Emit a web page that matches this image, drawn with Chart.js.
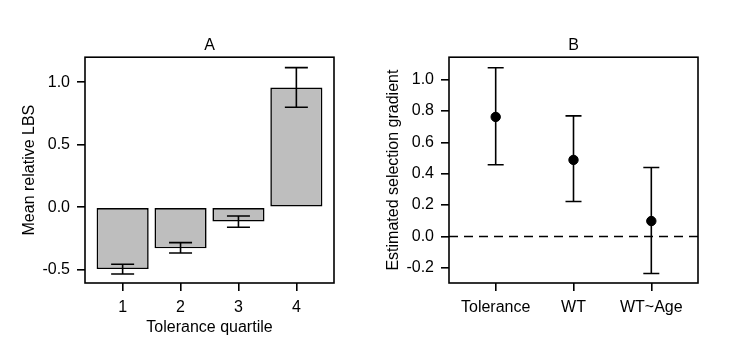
<!DOCTYPE html>
<html>
<head>
<meta charset="utf-8">
<script src="https://cdn.jsdelivr.net/npm/chart.js@4/dist/chart.umd.min.js"></script>
<style>
  body { margin: 0; background: #fff; }
  #wrap { position: relative; width: 729px; height: 354px; }
  canvas { position: absolute; top: 0; }
  #chartA { left: 0; }
  #chartB { left: 364px; }
</style>
</head>
<body>
<div id="wrap">
  <canvas id="chartA" width="364" height="354"></canvas>
  <canvas id="chartB" width="365" height="354"></canvas>
</div>
<script>
// panel A: mean relative LBS by tolerance quartile
const quartiles = [1, 2, 3, 4];
const lbsMean = [-0.494, -0.328, -0.115, 0.957];
const lbsLow = [-0.534, -0.366, -0.160, 0.800];
const lbsHigh = [-0.456, -0.283, -0.070, 1.117];
const yTicksA = [-0.5, 0.0, 0.5, 1.0];

// panel B: estimated selection gradients
const terms = ['Tolerance', 'WT', 'WT~Age'];
const gradMean = [0.762, 0.488, 0.098];
const gradLow = [0.457, 0.223, -0.236];
const gradHigh = [1.076, 0.769, 0.440];
const yTicksB = [-0.2, 0.0, 0.2, 0.4, 0.6, 0.8, 1.0];

Chart.defaults.font.family = "'Liberation Sans', Arial, sans-serif";
Chart.defaults.font.size = 16;
Chart.defaults.color = '#000';

const LW = 1.6;

// draws vertical error bars with caps, using the chart's scales
function errorBarPlugin(xs, lo, hi, capHalf, hook) {
  const p = { id: 'errbars' };
  p[hook] = chart => {
    const { ctx } = chart;
    const xS = chart.scales.x, yS = chart.scales.y;
    ctx.save();
    ctx.strokeStyle = '#000';
    ctx.lineWidth = LW;
    xs.forEach((xv, i) => {
      const x = xS.getPixelForValue(xv);
      const y1 = yS.getPixelForValue(lo[i]);
      const y2 = yS.getPixelForValue(hi[i]);
      ctx.beginPath();
      ctx.moveTo(x, y1); ctx.lineTo(x, y2);
      ctx.moveTo(x - capHalf, y1); ctx.lineTo(x + capHalf, y1);
      ctx.moveTo(x - capHalf, y2); ctx.lineTo(x + capHalf, y2);
      ctx.stroke();
    });
    ctx.restore();
  };
  return p;
}

const boxPlugin = {
  id: 'box',
  afterDraw(chart) {
    const { ctx, chartArea: a } = chart;
    ctx.save();
    ctx.strokeStyle = '#000';
    ctx.lineWidth = LW;
    ctx.strokeRect(a.left, a.top, a.right - a.left, a.bottom - a.top);
    ctx.restore();
  }
};

const zeroLine = {
  id: 'zeroLine',
  beforeDatasetsDraw(chart) {
    const { ctx, chartArea: a } = chart;
    const y = chart.scales.y.getPixelForValue(0);
    ctx.save();
    ctx.strokeStyle = '#000';
    ctx.lineWidth = LW;
    ctx.setLineDash([9, 6]);
    ctx.beginPath();
    ctx.moveTo(a.left, y); ctx.lineTo(a.right, y);
    ctx.stroke();
    ctx.restore();
  }
};

function axisY(min, max, ticks, titleText) {
  return {
    type: 'linear', min: min, max: max,
    afterFit: s => { s.width = 85; },
    afterBuildTicks: s => { s.ticks = ticks.map(v => ({ value: v })); },
    ticks: { padding: 7, callback: v => v.toFixed(1) },
    grid: { drawOnChartArea: false, drawTicks: true, tickLength: 8, color: '#000', lineWidth: LW },
    border: { display: false },
    title: { display: true, text: titleText, padding: { top: 20, bottom: 0 } }
  };
}

function axisX(min, max, ticks, label, titleText) {
  return {
    type: 'linear', min: min, max: max, offset: false,
    afterFit: s => { s.height = 71; },
    afterBuildTicks: s => { s.ticks = ticks.map(v => ({ value: v })); },
    ticks: { padding: 7, maxRotation: 0, autoSkip: false, callback: label },
    grid: { offset: false, drawOnChartArea: false, drawTicks: true, tickLength: 8, color: '#000', lineWidth: LW },
    border: { display: false },
    title: { display: !!titleText, text: titleText || '', padding: { top: 0, bottom: 17 } }
  };
}

function titleOpt(text) {
  return {
    display: true, text: text, fullSize: false, color: '#000',
    font: { size: 16, weight: 'normal' }, padding: { top: 36, bottom: 2 }
  };
}

new Chart(document.getElementById('chartA'), {
  type: 'bar',
  data: {
    datasets: [{
      data: quartiles.map((q, i) => ({ x: q, y: lbsMean[i] })),
      backgroundColor: '#bebebe',
      borderColor: '#000',
      borderWidth: LW,
      borderSkipped: false,
      barPercentage: 0.9,
      categoryPercentage: 1.0
    }]
  },
  options: {
    responsive: false,
    animation: false,
    layout: { padding: { left: 0, right: 30, top: 0, bottom: 0 } },
    plugins: { legend: { display: false }, tooltip: { enabled: false }, title: titleOpt('A') },
    scales: {
      x: axisX(0.35, 4.65, quartiles, v => String(v), 'Tolerance quartile'),
      y: axisY(-0.606, 1.2, yTicksA, 'Mean relative LBS')
    }
  },
  plugins: [errorBarPlugin(quartiles, lbsLow, lbsHigh, 11.5, 'afterDatasetsDraw'), boxPlugin]
});

const termPos = terms.map((t, i) => i + 1);

new Chart(document.getElementById('chartB'), {
  type: 'scatter',
  data: {
    datasets: [{
      data: termPos.map((p, i) => ({ x: p, y: gradMean[i] })),
      backgroundColor: '#000',
      borderColor: '#000',
      pointRadius: 4.7,
      pointHoverRadius: 4.7
    }]
  },
  options: {
    responsive: false,
    animation: false,
    layout: { padding: { left: 0, right: 31, top: 0, bottom: 0 } },
    plugins: { legend: { display: false }, tooltip: { enabled: false }, title: titleOpt('B') },
    scales: {
      x: axisX(0.4, 3.6, termPos, v => terms[v - 1], ''),
      y: axisY(-0.297, 1.143, yTicksB, 'Estimated selection gradient')
    }
  },
  plugins: [zeroLine, errorBarPlugin(termPos, gradLow, gradHigh, 8, 'beforeDatasetsDraw'), boxPlugin]
});
</script>
</body>
</html>
